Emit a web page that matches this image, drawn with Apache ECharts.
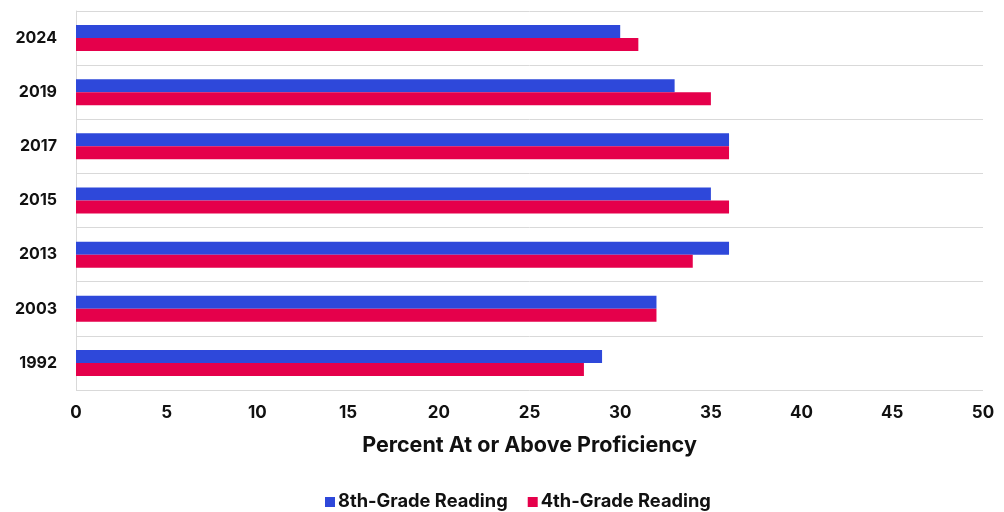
<!DOCTYPE html>
<html>
<head>
<meta charset="utf-8">
<style>
  html, body { margin: 0; padding: 0; background: #ffffff; }
  #chart { width: 1004px; height: 512px; }
</style>
<script src="https://cdn.jsdelivr.net/npm/echarts@6/dist/echarts.min.js"></script>
</head>
<body>
<div id="chart"></div>
<script>
// Assessment years, bottom to top
const years = ['1992', '2003', '2013', '2015', '2017', '2019', '2024'];
// Percent at or above proficiency
const grade8Reading = [29, 32, 36, 35, 36, 33, 30];
const grade4Reading = [28, 32, 34, 36, 36, 35, 31];
const seriesNames = ['8th-Grade Reading', '4th-Grade Reading'];
const axisTitle = 'Percent At or Above Proficiency';

const FONT = 'Inter, "Liberation Sans", sans-serif';
const chart = echarts.init(document.getElementById('chart'));

chart.setOption({
  animation: false,
  textStyle: { fontFamily: FONT },
  grid: { left: 76, right: 21, top: 11, bottom: 122, containLabel: false },
  legend: {
    top: 488,
    left: 320,
    itemWidth: 10,
    itemHeight: 10,
    itemGap: 20,
    icon: 'rect',
    textStyle: { fontFamily: FONT, fontWeight: 'bold', fontSize: 18.3, color: '#111111', padding: [0, 0, 0, -2] },
    data: seriesNames
  },
  xAxis: {
    type: 'value',
    min: 0,
    max: 50,
    interval: 5,
    name: axisTitle,
    nameLocation: 'middle',
    nameGap: 45,
    nameTextStyle: { fontFamily: FONT, fontWeight: 'bold', fontSize: 21.5, color: '#111111' },
    axisLine: { show: false },
    axisTick: { show: false },
    splitLine: { show: false },
    axisLabel: { fontFamily: FONT, fontWeight: 'bold', fontSize: 17, color: '#111111', margin: 14 }
  },
  yAxis: {
    type: 'category',
    data: years,
    axisLine: { show: true, lineStyle: { color: '#d9d9d9', width: 1 } },
    axisTick: { show: false },
    splitLine: { show: true, lineStyle: { color: '#d9d9d9', width: 1 } },
    axisLabel: { fontFamily: FONT, fontWeight: 'bold', fontSize: 16, color: '#111111', margin: 19 }
  },
  series: [
    {
      name: seriesNames[0],
      type: 'bar',
      data: grade8Reading,
      barWidth: 13,
      barGap: '0%',
      itemStyle: { color: '#2e48da' }
    },
    {
      name: seriesNames[1],
      type: 'bar',
      data: grade4Reading,
      barWidth: 13,
      barGap: '0%',
      itemStyle: { color: '#e5004b' }
    }
  ]
});
</script>
</body>
</html>
